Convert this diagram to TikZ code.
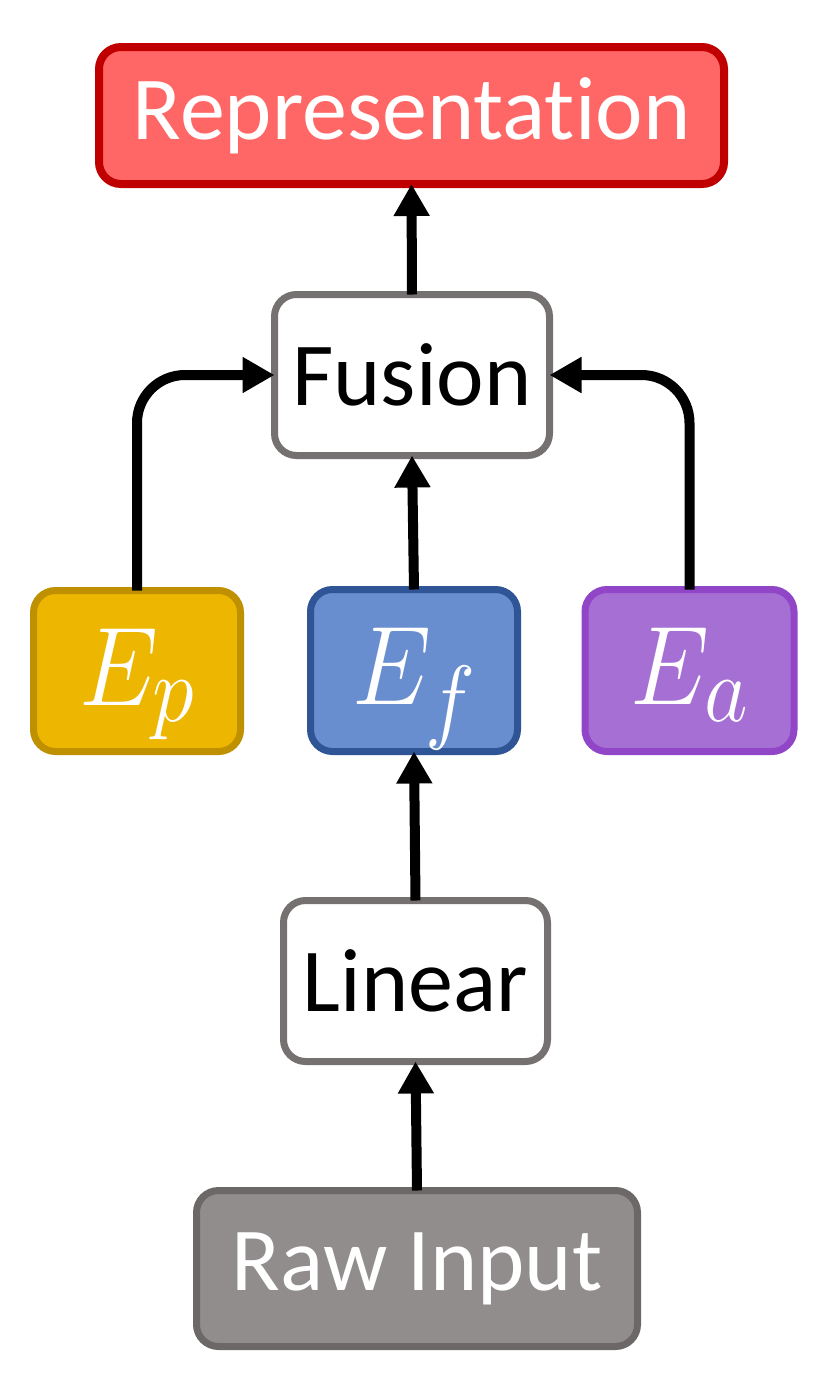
\documentclass[tikz,border=0pt]{standalone}
\usepackage{fix-cm}
\usepackage{graphicx}
\usepackage{fontspec}
\setmainfont{Carlito}[Ligatures=NoCommon]
\usetikzlibrary{arrows.meta}
\definecolor{repfill}{HTML}{FF6666}
\definecolor{repdraw}{HTML}{C00000}
\definecolor{grayedge}{HTML}{767171}
\definecolor{epfill}{HTML}{EDB600}
\definecolor{epdraw}{HTML}{BF9000}
\definecolor{effill}{HTML}{698ED0}
\definecolor{efdraw}{HTML}{2F5597}
\definecolor{eafill}{HTML}{A66FD4}
\definecolor{eadraw}{HTML}{9146C8}
\definecolor{rawfill}{HTML}{918D8C}
\definecolor{rawdraw}{HTML}{6D6868}
\newcommand{\elabel}[1]{\raisebox{-34pt}[0pt][0pt]{\scalebox{0.9}[1]{$E_{\scalebox{1.2}{$\scriptstyle #1$}}$}}}
\tikzset{
  box/.style={rectangle, rounded corners=22pt, inner sep=0pt, outer sep=0pt,
    line width=7pt, font=\fontsize{90}{100}\selectfont},
  ebox/.style={box, font=\fontsize{112}{120}\selectfont, text=white},
  arr/.style={line width=10pt, -{Triangle[length=32pt,width=34pt]}},
}
\begin{document}
\begin{tikzpicture}[x=1pt,y=-1pt]
\useasboundingbox[fill=white] (0,0) rectangle (830,1385);
\node[box, draw=repdraw, fill=repfill, text=white, line width=8pt,
  minimum width=625pt, minimum height=137pt] (rep) at (411.5,115.5) {Representation};
\node[box, draw=grayedge, fill=white, text=black,
  minimum width=275pt, minimum height=161pt] (fusion) at (412,375) {Fusion};
\node[ebox, draw=epdraw, fill=epfill,
  minimum width=207pt, minimum height=161pt] (ep) at (137,671) {\elabel{p}};
\node[ebox, draw=efdraw, fill=effill,
  minimum width=207pt, minimum height=162pt] (ef) at (414,670.5) {\elabel{f}};
\node[ebox, draw=eadraw, fill=eafill,
  minimum width=209pt, minimum height=162pt] (ea) at (689.5,670.5) {\elabel{a}};
\node[box, draw=grayedge, fill=white, text=black,
  minimum width=264pt, minimum height=161pt] (linear) at (415.5,981) {Linear};
\node[box, draw=rawdraw, fill=rawfill, text=white,
  minimum width=441pt, minimum height=156pt] (raw) at (417,1268.5) {Raw Input};
\draw[arr] (raw.north) -- (linear.south);
\draw[arr] (linear.north) -- (ef.south);
\draw[arr] (ef.north) -- (fusion.south);
\draw[arr] (fusion.north) -- (rep.south);
\draw[arr, rounded corners=48pt] (ep.north) |- (fusion.west);
\draw[arr, rounded corners=48pt] (ea.north) |- (fusion.east);
\end{tikzpicture}
\end{document}
